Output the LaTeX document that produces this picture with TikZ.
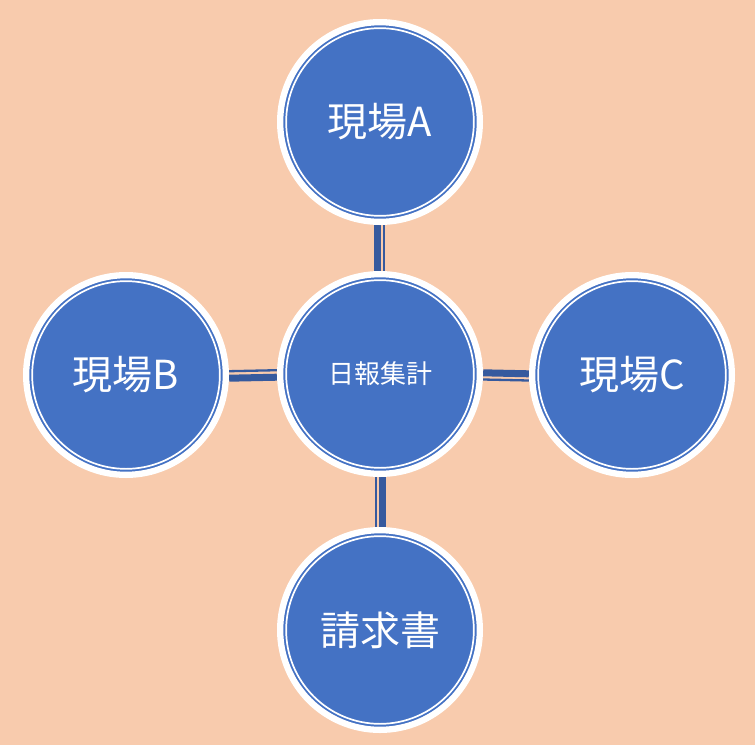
\documentclass[tikz,border=0pt]{standalone}
\usepackage{fontspec}
\newfontfamily\jp{Noto Sans CJK JP}
\definecolor{bgpeach}{HTML}{F8CBAD}
\definecolor{hubblue}{HTML}{4472C4}
\definecolor{linkblue}{HTML}{365A9E}
\tikzset{
  hub/.style={circle, minimum size=199.7pt, inner sep=0pt, fill=hubblue, draw=white,
    line width=6.3pt, text=white, font=\jp\fontsize{40}{40}\selectfont,
    path picture={\draw[white, line width=1.7pt] (path picture bounding box.center) circle[radius=93.85pt];}},
  thickpart/.style={draw=linkblue, line width=7pt},
  thinpart/.style={draw=linkblue, line width=2.3pt},
}
\begin{document}
\begin{tikzpicture}[x=1pt,y=-1pt]
\useasboundingbox (0,0) rectangle (755,745);
\fill[bgpeach] (0,0) rectangle (755,745);
% nodes placed first for naming (drawn later on top)
\path (380,374) coordinate (cc) (380,122) coordinate (ac) (126,375) coordinate (bc) (632,375) coordinate (dc) (380,630) coordinate (ec);
\begin{scope}[every node/.style={circle, minimum size=206pt, inner sep=0pt}]
\node (c0) at (cc) {};
\node (a0) at (ac) {};
\node (b0) at (bc) {};
\node (d0) at (dc) {};
\node (e0) at (ec) {};
\end{scope}
% connectors
\draw[thickpart] ([xshift=-2.5pt]c0.north) -- ([xshift=-2.5pt]a0.south);
\draw[thinpart] ([xshift=3.8pt]c0.north) -- ([xshift=3.8pt]a0.south);
\draw[thinpart] ([yshift=3.8pt]c0.west) -- ([yshift=3.8pt]b0.east);
\draw[thickpart] ([yshift=-3.2pt]c0.west) -- ([yshift=-3.2pt]b0.east);
\draw[thickpart] ([yshift=1.2pt]c0.east) -- ([yshift=1.2pt]d0.west);
\draw[thinpart] ([yshift=-5.5pt]c0.east) -- ([yshift=-5.5pt]d0.west);
\draw[thinpart] ([xshift=-4.2pt]c0.south) -- ([xshift=-4.2pt]e0.north);
\draw[thickpart] ([xshift=2pt]c0.south) -- ([xshift=2pt]e0.north);
% circles
\node[hub, font=\jp\fontsize{26}{26}\selectfont] (c) at (cc) {日報集計};
\node[hub] (a) at (ac) {\raisebox{3pt}{現場A}};
\node[hub] (b) at (bc) {\raisebox{3pt}{現場B}};
\node[hub] (d) at (dc) {\raisebox{3pt}{現場C}};
\node[hub] (e) at (ec) {\raisebox{3pt}{請求書}};
\end{tikzpicture}
\end{document}
